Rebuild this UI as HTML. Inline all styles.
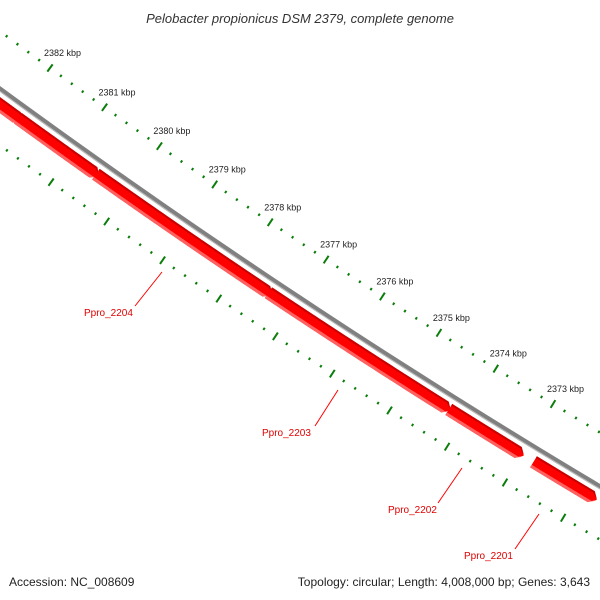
<!DOCTYPE html>
<html><head><meta charset="utf-8"><style>
html,body{margin:0;padding:0;background:#fff;}
svg{display:block;font-family:"Liberation Sans",sans-serif;}
</style></head><body>
<svg id="map" width="600" height="600" viewBox="0 0 600 600">
<text x="300" y="23" text-anchor="middle" font-size="13" font-style="italic" fill="#333">Pelobacter propionicus DSM 2379, complete genome</text>
<g id="rings"></g>
<text x="9" y="586" font-size="12" fill="#222">Accession: NC_008609</text>
<text x="590" y="586" font-size="12" fill="#222" text-anchor="end">Topology: circular; Length: 4,008,000 bp; Genes: 3,643</text>
</svg>
<script>
const geneNames = ["", "", "Ppro_2204", "Ppro_2203", "Ppro_2202", "Ppro_2201"];
const geneStart = [2381.87, 2380.48, 2377.38, 2374.24, 2372.97, 2371.71];
const geneEnd   = [2383.0, 2381.95, 2380.53, 2377.44, 2374.27, 2372.80];
const tickKbp = [2384,2383,2382,2381,2380,2379,2378,2377,2376,2375,2374,2373,2372,2371,2370];
const labelKbp = [2382,2381,2380,2379,2378,2377,2376,2375,2374,2373];
const labelPos = [[84,312,135,306,162,272],[262,432,315,426,338,390],[388,509,438,503,462,468],[464,555,515,549,539,514]];

const NS="http://www.w3.org/2000/svg";
const g=document.getElementById('rings');
const A=[50,68],B=[553,404],Rt=7600;
const M=[(A[0]+B[0])/2,(A[1]+B[1])/2];
const dx=B[0]-A[0],dy=B[1]-A[1],L=Math.hypot(dx,dy);
const n=[dy/L,-dx/L];
const h=Math.sqrt(Rt*Rt-(L/2)*(L/2));
const cx=M[0]+n[0]*h,cy=M[1]+n[1]*h;
const angA=Math.atan2(A[1]-cy,A[0]-cx),angB=Math.atan2(B[1]-cy,B[0]-cx);
function ang(bp){return angA+(bp-2382)/(2373-2382)*(angB-angA);}
function pt(bp,r){const a=ang(bp);return [cx+r*Math.cos(a),cy+r*Math.sin(a)];}
function arcPts(s,e,r){const p=[];const N=60;for(let i=0;i<=N;i++){p.push(pt(s+(e-s)*i/N,r));}return p;}
function poly(pts,fill,name){const el=document.createElementNS(NS,'polygon');el.setAttribute('points',pts.map(p=>p[0].toFixed(2)+','+p[1].toFixed(2)).join(' '));el.setAttribute('fill',fill);


g.appendChild(el);return el;}
function line(p,q,stroke,w,name){const el=document.createElementNS(NS,'line');el.setAttribute('x1',p[0]);el.setAttribute('y1',p[1]);el.setAttribute('x2',q[0]);el.setAttribute('y2',q[1]);el.setAttribute('stroke',stroke);el.setAttribute('stroke-width',w);


g.appendChild(el);return el;}
function band(s,e,r1,r2,fill,name){return poly(arcPts(s,e,r1).concat(arcPts(e,s,r2)),fill,name);}

// other feature rings at far left
band(2382.2,2386,Rt+67,Rt+70,'#22c8c8','feature-ring-cyan');
band(2382.25,2386,Rt+70,Rt+73,'#4a7fb0','feature-ring-blue');
band(2382.3,2386,Rt+73,Rt+76,'#4a3d8f','feature-ring-navy');
band(2382.35,2386,Rt+76,Rt+79,'#bbbbbb','feature-ring-gray');

// backbone
band(2368,2386,Rt+44,Rt+48,'#808080','backbone');
band(2368,2386,Rt+48,Rt+49,'#b8b8b8','backbone-edge');

// genes (arrow pointing toward lower bp)
for(let i=0;i<geneStart.length;i++){
  const s=geneStart[i],e=geneEnd[i],r1=Rt+53,r2=Rt+66,rm=(r1+r2)/2,tip=0.1;
  const top=arcPts(s+tip,e,r1),bot=arcPts(e,s+tip,r2);
  poly([pt(s,rm)].concat(top,bot),'#ff0000','gene-'+(geneNames[i]||'partial-'+i));
  poly([pt(s,rm+1)].concat(arcPts(s+tip*0.6,e,r2-3),arcPts(e,s+tip,r2)),'#ff6060','gene-shade-'+i);
  poly([pt(s,rm-0.5)].concat(arcPts(s+tip*0.9,e,r1),arcPts(e,s+tip,r1+2)),'#c80000','gene-edge-'+i);
}

// ticks
for(let b=2370;b<=2384.001;b+=0.2){
  const bp=Math.round(b*10)/10;
  const major=Math.abs(bp-Math.round(bp))<0.01;
  const len=major?4.5:1.3;
  line(pt(bp,Rt-len),pt(bp,Rt+len),'#0a7d0a',2,major?'outer-major-tick':'outer-minor-tick');
  line(pt(bp,Rt+92-len),pt(bp,Rt+92+len),'#0a7d0a',2,major?'inner-major-tick':'inner-minor-tick');
}
labelKbp.forEach(k=>{
  const p=pt(k,Rt);
  const t=document.createElementNS(NS,'text');
  t.setAttribute('x',(p[0]-6).toFixed(1));t.setAttribute('y',(p[1]-12).toFixed(1));
  t.setAttribute('font-size','9');t.setAttribute('fill','#222');
  t.textContent=k+' kbp';
  
  
  g.appendChild(t);
});
// gene labels
for(let j=0;j<4;j++){
  const L2=labelPos[j];
  line([L2[2],L2[3]],[L2[4],L2[5]],'#ff0000',1,'gene-label-leader');
  const t=document.createElementNS(NS,'text');
  t.setAttribute('x',L2[0]);t.setAttribute('y',L2[1]+4);
  t.setAttribute('font-size','10');t.setAttribute('fill','#e00000');
  t.textContent=geneNames[j+2];
  
  
  g.appendChild(t);
}
</script>
</body></html>
